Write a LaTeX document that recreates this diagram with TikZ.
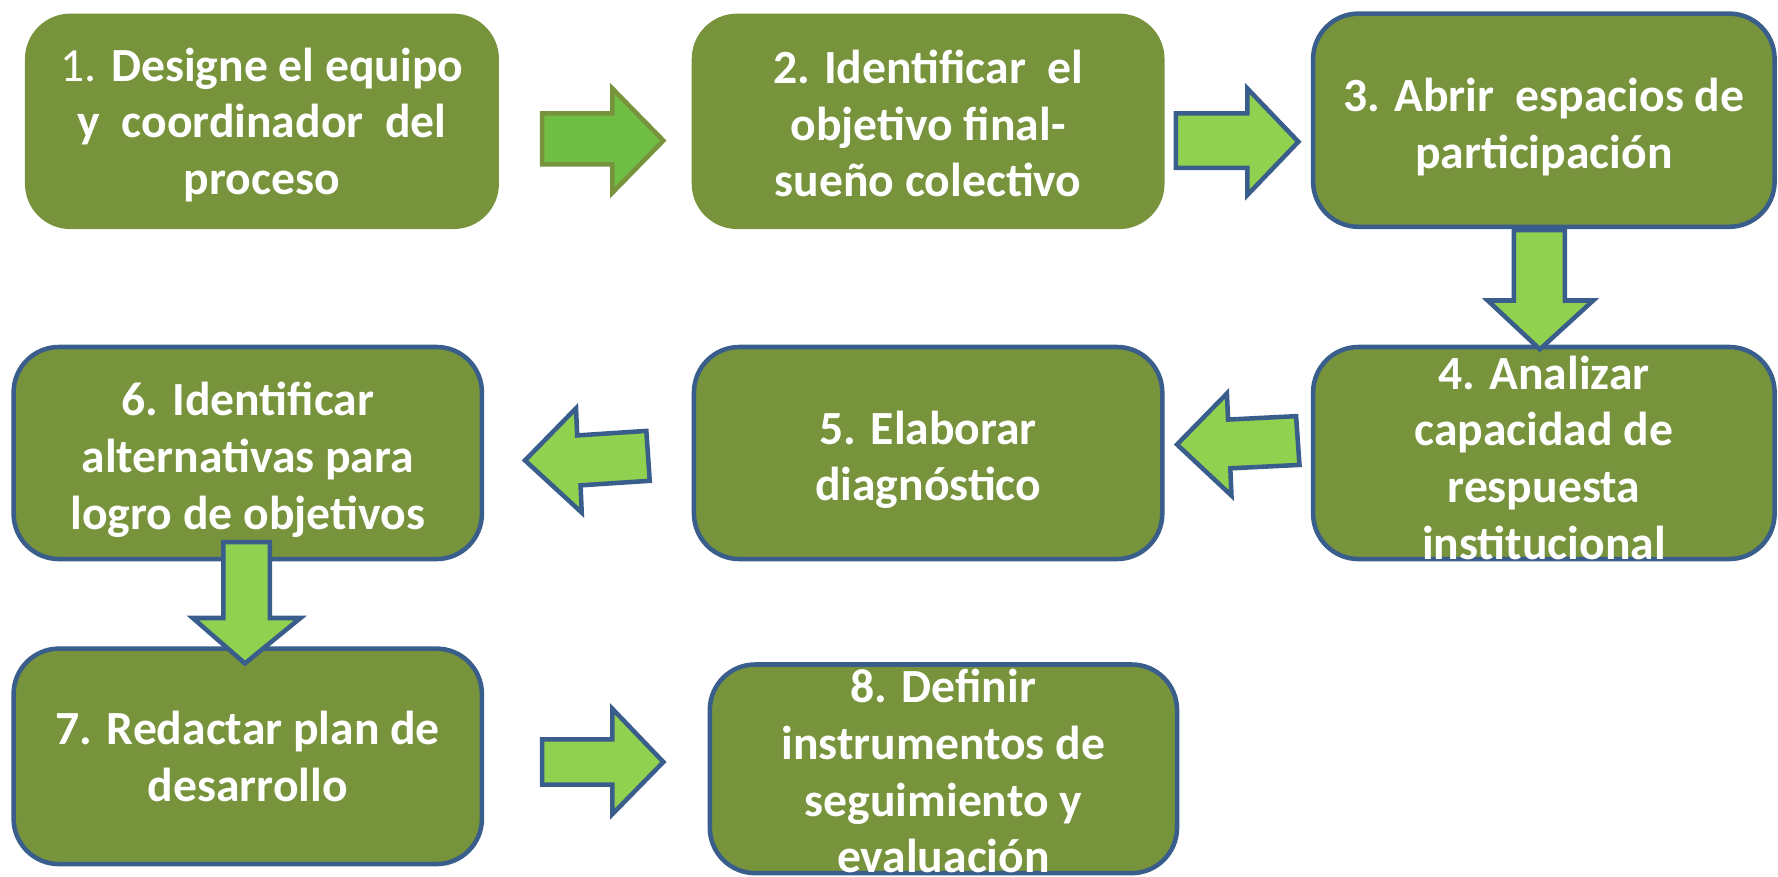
\documentclass[tikz,border=0pt]{standalone}
\usepackage{fontspec}
\setmainfont{Carlito}
\usetikzlibrary{calc}
\definecolor{olivebox}{HTML}{77933C}
\definecolor{bordblue}{HTML}{3A5E8C}
\definecolor{lgreen}{HTML}{92D050}
\definecolor{mgreen}{HTML}{70BE44}
\begin{document}
\begin{tikzpicture}[x=0.5pt,y=-0.5pt,
  box/.style={fill=olivebox, rounded corners=20pt, inner sep=0pt, outer sep=0pt},
  bluebox/.style={box, draw=bordblue, line width=2pt},
  txt/.style={text=white, font=\bfseries\fontsize{21}{25}\selectfont, align=center, inner sep=0pt},
  blk/.style={fill=lgreen, draw=bordblue, line width=2pt, line join=miter},
  blkfirst/.style={fill=mgreen, draw=olivebox, line width=2pt, line join=miter}]
\useasboundingbox (0,0) rectangle (1568,773);
% boxes
\node[box, minimum width=209pt, minimum height=95pt] (b1) at (231,107) {};
\node[box, minimum width=208.5pt, minimum height=95pt] (b2) at (818.5,107) {};
\node[bluebox, minimum width=203.5pt, minimum height=94pt] (b3) at (1361.5,106) {};
\node[bluebox, minimum width=203.5pt, minimum height=93.5pt] (b4) at (1361.5,399.5) {};
\node[bluebox, minimum width=206.5pt, minimum height=93.5pt] (b5) at (818.5,399.5) {};
\node[bluebox, minimum width=206.5pt, minimum height=93.5pt] (b6) at (218.5,399.5) {};
\node[bluebox, minimum width=206.5pt, minimum height=95pt] (b7) at (218.5,667) {};
\node[bluebox, minimum width=206pt, minimum height=92pt] (b8) at (832,678) {};
% block arrows
\draw[blkfirst] (478,100) -- (540,100) -- (540,78) -- (585,124) -- (540,170) -- (540,145) -- (478,145) -- cycle;
\draw[blk] (1037,100) -- (1100,100) -- (1100,78) -- (1145,125) -- (1100,172) -- (1100,148) -- (1037,148) -- cycle;
\draw[blk] (1335,203) -- (1380,203) -- (1380,265) -- (1405,265) -- (1358,308) -- (1312,265) -- (1335,265) -- cycle;
\draw[blk] (1143,367) -- (1083,370) -- (1082,347) -- (1038,392) -- (1086,437) -- (1085,413) -- (1146,410) -- cycle;
\draw[blk] (570,380) -- (509,384) -- (508,360) -- (463,406) -- (513,452) -- (512,428) -- (573,424) -- cycle;
\draw[blk] (197,478) -- (238,478) -- (238,545) -- (265,545) -- (216,585) -- (170,545) -- (197,545) -- cycle;
\draw[blk] (478,652) -- (540,652) -- (540,625) -- (585,672) -- (540,718) -- (540,692) -- (478,692) -- cycle;
% texts
\node[txt, yshift=-1.5pt] (t1) at (b1) {{\mdseries 1.} Designe el equipo\\y\ \ coordinador\ \ del\\proceso};
\node[txt, yshift=-1pt] (t2) at (b2) {2. Identificar\ \ el\\objetivo final-\\sueño colectivo};
\node[txt, yshift=-3pt] (t3) at (b3) {3. Abrir\ \ espacios de\\participación};
\node[txt, yshift=-2pt] (t4) at (b4) {4. Analizar\\capacidad de\\respuesta\\institucional};
\node[txt, yshift=-3pt] (t5) at (b5) {5. Elaborar\\diagnóstico};
\node[txt, yshift=-3pt] (t6) at (b6) {6. Identificar\\alternativas para\\logro de objetivos};
\node[txt] (t7) at (b7) {7. Redactar plan de\\desarrollo};
\node[txt, yshift=-1pt] (t8) at (b8) {8. Definir\\instrumentos de\\seguimiento y\\evaluación};
\end{tikzpicture}
\end{document}
